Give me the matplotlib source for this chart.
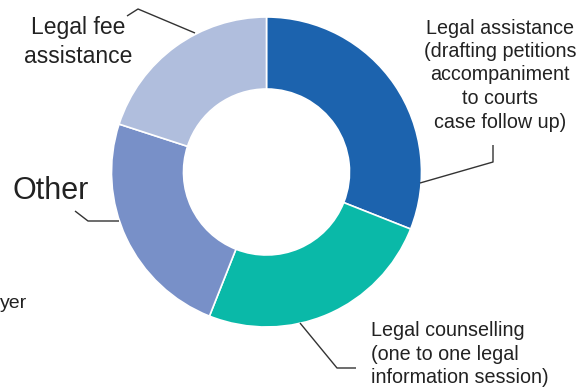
import matplotlib
matplotlib.use("Agg")
import matplotlib.pyplot as plt

plt.rcParams['font.family'] = ['Liberation Sans', 'DejaVu Sans']

categories = [
    "Legal assistance\n(drafting petitions\naccompaniment\nto courts\ncase follow up)",
    "Legal counselling\n(one to one legal\ninformation session)",
    "Other",
    "Legal fee\nassistance",
]
shares = [31, 25, 24, 20]
colors = ["#1c63ae", "#0ab9a8", "#7890c8", "#b0bedd"]
# visible tail of a neighbouring label at the left edge
edge_label = "yer"

W, H = 582, 388
fig = plt.figure(figsize=(W / 100, H / 100), dpi=100)
ax = fig.add_axes([0, 0, 1, 1])

def Y(y):
    # pixel row (from top) to data y (from bottom)
    return H - y

cx, cy, r_out, r_in = 266.5, 172, 155, 83
ax.pie(shares, colors=colors, startangle=90, counterclock=False,
       center=(cx, Y(cy)), radius=r_out,
       wedgeprops=dict(width=r_out - r_in, edgecolor="white", linewidth=1.2))
ax.set_xlim(0, W)
ax.set_ylim(0, H)
ax.set_aspect("equal")
ax.axis("off")

txt = "#222222"
line_kw = dict(color="#333333", linewidth=1.0, solid_capstyle="butt")

# Legal assistance
ax.plot([420, 493, 493], [Y(183), Y(162), Y(145)], **line_kw)
ax.text(500, Y(75), categories[0], ha="center", va="center", fontsize=14.2,
        color=txt, linespacing=1.3)

# Legal counselling
ax.plot([300, 337, 356], [Y(323), Y(368), Y(368)], **line_kw)
ax.text(371, Y(354), categories[1], ha="left", va="center", fontsize=14.2,
        color=txt, linespacing=1.27)

# Other
ax.plot([119, 88, 75], [Y(221), Y(221), Y(211)], **line_kw)
ax.text(51, Y(191), categories[2], ha="center", va="center", fontsize=22,
        color=txt)

# Legal fee assistance
ax.plot([195, 138, 127], [Y(33), Y(9), Y(16)], **line_kw)
ax.text(78, Y(42), categories[3], ha="center", va="center", fontsize=16.5,
        color=txt, linespacing=1.3)

ax.text(0, Y(303), edge_label, ha="left", va="center", fontsize=14,
        color=txt)

fig.savefig("out.png", dpi=100)
